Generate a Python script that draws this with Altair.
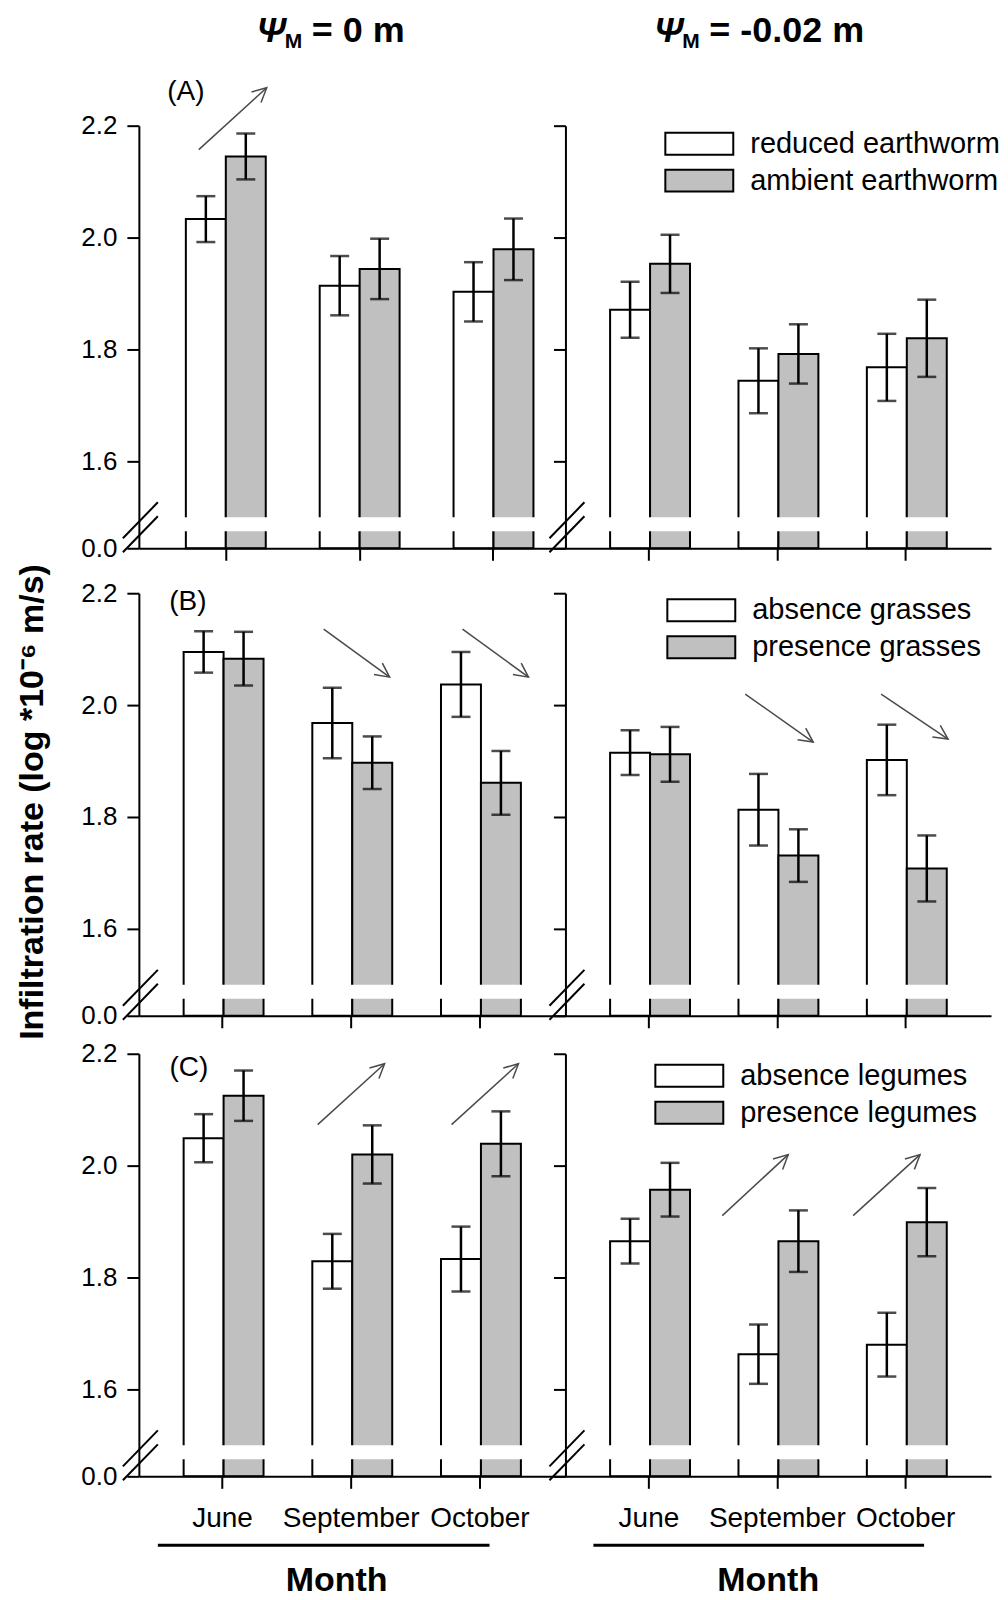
import math
import altair as alt
import pandas as pd

FONT = "Liberation Sans"
ARROW = "#4a4a4a"
GRAY = "#c0c0c0"

months = ["June", "September", "October"]
groups = ["low", "high"]
y_ticks = [0.0, 1.6, 1.8, 2.0, 2.2]

legend_A = ["reduced earthworm", "ambient earthworm"]
legend_B = ["absence grasses", "presence grasses"]
legend_C = ["absence legumes", "presence legumes"]
psi_values = ["= 0 m", "= -0.02 m"]
panel_letters = ["(A)", "(B)", "(C)"]
y_title = "Infiltration rate (log *10\u207b\u2076 m/s)"
x_title = "Month"

# Row A  (earthworm) -- psi 0 m / psi -0.02 m
A0_low_mean = [2.033, 1.914, 1.903]
A0_low_se = [0.041, 0.053, 0.053]
A0_high_mean = [2.145, 1.944, 1.979]
A0_high_se = [0.041, 0.054, 0.055]
A2_low_mean = [1.871, 1.744, 1.768]
A2_low_se = [0.050, 0.058, 0.060]
A2_high_mean = [1.953, 1.792, 1.820]
A2_high_se = [0.052, 0.053, 0.069]
# Row B  (grasses)
B0_low_mean = [2.095, 1.968, 2.037]
B0_low_se = [0.037, 0.063, 0.058]
B0_high_mean = [2.083, 1.897, 1.861]
B0_high_se = [0.048, 0.047, 0.057]
B2_low_mean = [1.915, 1.813, 1.902]
B2_low_se = [0.040, 0.064, 0.063]
B2_high_mean = [1.912, 1.731, 1.708]
B2_high_se = [0.049, 0.047, 0.059]
# Row C  (legumes)
C0_low_mean = [2.049, 1.829, 1.833]
C0_low_se = [0.043, 0.049, 0.058]
C0_high_mean = [2.125, 2.020, 2.039]
C0_high_se = [0.045, 0.052, 0.058]
C2_low_mean = [1.865, 1.663, 1.680]
C2_low_se = [0.040, 0.053, 0.057]
C2_high_mean = [1.957, 1.865, 1.899]
C2_high_se = [0.048, 0.055, 0.061]

# ---------------- layout ----------------
W_L, W_R, H = 427, 426, 423
BREAK_LO, TOP = 1.5, 2.2


def panel_df(low_m, low_se, high_m, high_se):
    rows = []
    for g, ms, ses in (("low", low_m, low_se), ("high", high_m, high_se)):
        for mo, m, s in zip(months, ms, ses):
            rows.append({"Month": mo, "Group": g, "Mean": m, "Lo": m - s, "Hi": m + s})
    return pd.DataFrame(rows)


def one(s=""):
    return pd.DataFrame({"t": [s]})


def txt(s, x, y, size, weight="normal", style="normal", align="left",
        baseline="middle", angle=0):
    return alt.Chart(one(s)).mark_text(
        font=FONT, fontSize=size, fontWeight=weight, fontStyle=style,
        align=align, baseline=baseline, angle=angle, color="black",
    ).encode(x=alt.value(x), y=alt.value(y), text="t:N")


def seg(x0, y0, x1, y1, color="black", width=2):
    return alt.Chart(one()).mark_rule(color=color, strokeWidth=width).encode(
        x=alt.value(x0), y=alt.value(y0), x2=alt.value(x1), y2=alt.value(y1))


def arrow(x0, y0, x1, y1, dy=0):
    y0, y1 = y0 + dy, y1 + dy
    ang = math.degrees(math.atan2(y1 - y0, x1 - x0)) % 360
    head = alt.Chart(one()).mark_point(
        shape="M-1,-0.5L0,0L-1,0.5", filled=False, size=800, angle=ang,
        color=ARROW, strokeWidth=1.5, opacity=1,
    ).encode(x=alt.value(x1), y=alt.value(y1))
    return [seg(x0, y0, x1, y1, ARROW, 1.5), head]


def legend(labels, lx, ly):
    out = []
    for i, (lab, col) in enumerate(zip(labels, ["white", GRAY])):
        top = ly + i * 37
        out.append(alt.Chart(one()).mark_rect(fill=col, stroke="black", strokeWidth=2).encode(
            x=alt.value(lx), x2=alt.value(lx + 68), y=alt.value(top), y2=alt.value(top + 22)))
        out.append(txt(lab, lx + 85, top + 11, 29))
    return out


def title_parts(x, value_text):
    return [
        txt("\u03a8", x, -84, 35, weight="bold", style="italic", baseline="alphabetic"),
        txt("M", x + 28, -78, 21, weight="bold", baseline="alphabetic"),
        txt(value_text, x + 55, -84, 36, weight="bold", baseline="alphabetic"),
    ]


def make_panel(df, width, xs, left, show_xlabels, ann, extra_top=0):
    h = H + extra_top
    xscale = alt.Scale(domain=months, paddingInner=xs[0], paddingOuter=xs[1], align=xs[2])
    xaxis = alt.Axis(title=None, labels=show_xlabels, labelFontSize=28, labelFont=FONT,
                     labelColor="black", labelPadding=16, labelAngle=0, tickSize=12,
                     tickWidth=2, tickColor="black", domainWidth=2, domainColor="black",
                     grid=False, zindex=1)
    yscale = alt.Scale(domain=[0, BREAK_LO, TOP], range=[h, h - 31, extra_top],
                       zero=False, nice=False)
    yaxis = alt.Axis(title=None, values=y_ticks, format=".1f", labels=left, labelFontSize=26,
                     labelFont=FONT, labelColor="black", labelPadding=10, tickSize=12,
                     tickWidth=2, tickColor="black", domainWidth=2, domainColor="black",
                     grid=False, zindex=1)
    X = alt.X("Month:N", scale=xscale, axis=xaxis, sort=months)
    XO = alt.XOffset("Group:N", scale=alt.Scale(domain=groups, paddingInner=0, paddingOuter=0),
                     sort=groups)
    base = alt.Chart(df)
    bars = base.mark_bar(stroke="black", strokeWidth=2).encode(
        x=X, xOffset=XO,
        y=alt.Y("Mean:Q", scale=yscale, axis=yaxis),
        y2=alt.datum(0),
        fill=alt.Fill("Group:N", scale=alt.Scale(domain=groups, range=["white", GRAY]), legend=None),
    )
    err = base.mark_rule(color="black", strokeWidth=2.5).encode(
        x=X, xOffset=XO, y=alt.Y("Lo:Q", scale=yscale, axis=yaxis), y2="Hi:Q")
    cap_lo = base.mark_tick(color="black", thickness=2.5, size=19).encode(
        x=X, xOffset=XO, y=alt.Y("Lo:Q", scale=yscale, axis=yaxis))
    cap_hi = base.mark_tick(color="black", thickness=2.5, size=19).encode(
        x=X, xOffset=XO, y=alt.Y("Hi:Q", scale=yscale, axis=yaxis))
    gap = alt.Chart(one()).mark_rect(fill="white", strokeWidth=0).encode(
        x=alt.value(0), x2=alt.value(width), y=alt.value(h - 31), y2=alt.value(h - 17))
    slashes = [seg(-16, h - 10, 19, h - 46), seg(-16, h + 4, 19, h - 32)]
    return alt.layer(bars, err, cap_lo, cap_hi, gap, *slashes, *ann).properties(width=width, height=h)


XS_LA = (0.403, 0.295, 0.595)
XS = (0.395, 0.355, 0.49)
EB = 7  # extra head-room of row B so that the gaps between rows match

pA0 = make_panel(panel_df(A0_low_mean, A0_low_se, A0_high_mean, A0_high_se), W_L, XS_LA, True, False,
                 title_parts(118, psi_values[0]) + [txt(panel_letters[0], 47, -34, 28, align="center")]
                 + arrow(60, 24, 128, -38))
pA2 = make_panel(panel_df(A2_low_mean, A2_low_se, A2_high_mean, A2_high_se), W_R, XS, False, False,
                 title_parts(89, psi_values[1]) + legend(legend_A, 100, 7))

pB0 = make_panel(panel_df(B0_low_mean, B0_low_se, B0_high_mean, B0_high_se), W_L, XS, True, False,
                 [txt(panel_letters[1], 49, 9 + EB, 28, align="center"),
                  txt(y_title, -106, 209 + EB, 34, weight="bold", align="center", angle=270)]
                 + arrow(185, 36, 251, 84, EB) + arrow(324, 36, 390, 84, EB), extra_top=EB)
pB2 = make_panel(panel_df(B2_low_mean, B2_low_se, B2_high_mean, B2_high_se), W_R, XS, False, False,
                 legend(legend_B, 102, 6 + EB) + arrow(180, 101, 248, 149, EB)
                 + arrow(316, 101, 383, 146, EB), extra_top=EB)

pC0 = make_panel(panel_df(C0_low_mean, C0_low_se, C0_high_mean, C0_high_se), W_L, XS, True, True,
                 [txt(panel_letters[2], 50, 14, 28, align="center"),
                  seg(19, 492, 351, 492, "black", 3),
                  txt(x_title, 198, 528, 34, weight="bold", align="center")]
                 + arrow(179, 71, 246, 10) + arrow(313, 71, 380, 10))
pC2 = make_panel(panel_df(C2_low_mean, C2_low_se, C2_high_mean, C2_high_se), W_R, XS, False, True,
                 legend(legend_C, 90, 11)
                 + [seg(28, 492, 359, 492, "black", 3),
                    txt(x_title, 203, 528, 34, weight="bold", align="center")]
                 + arrow(157, 162, 223, 101) + arrow(288, 162, 355, 101))

chart = alt.concat(
    pA0, pA2, pB0, pB2, pC0, pC2,
    columns=2, spacing={"row": 38, "column": 0}, bounds="flush",
).resolve_scale(
    x="independent", y="independent"
).properties(
    padding={"left": 7, "top": 4, "right": 0, "bottom": 0}
).configure_view(stroke=None)

chart.save("out.html", embed_options={"renderer": "svg", "actions": False})
